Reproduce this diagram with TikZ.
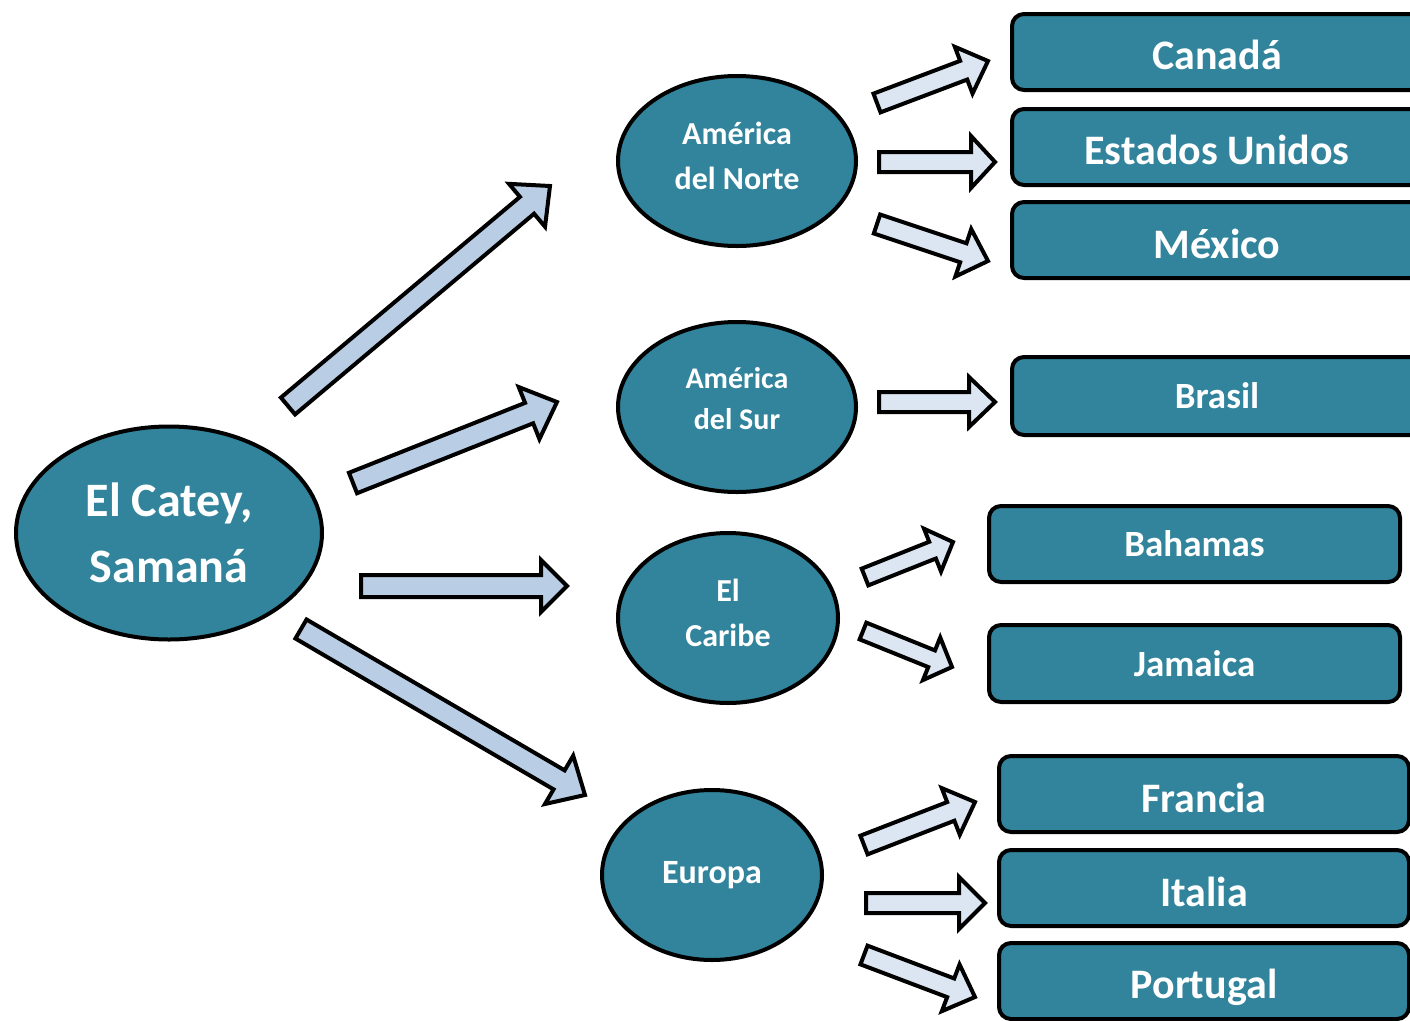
\documentclass[tikz,border=0pt]{standalone}
\usepackage{fontspec}
\setmainfont{Carlito}
\usetikzlibrary{shapes.geometric,calc}
\definecolor{tealfill}{HTML}{31849B}
\definecolor{bigar}{HTML}{B9CDE5}
\definecolor{smallar}{HTML}{DCE6F2}
\newcommand\blockarrow[6]{%
  \path let \p1=(#2), \p2=(#3), \n1={atan2(\y2-\y1,\x2-\x1)}, \n2={veclen(\x2-\x1,\y2-\y1)} in
    \pgfextra{\xdef\baAng{\n1}\xdef\baLen{\n2}\xdef\baX{\x1}\xdef\baY{\y1}};
  \pgfmathsetmacro\baA{\baLen-#6}%
  \pgfmathsetmacro\baW{#4/2}%
  \pgfmathsetmacro\baH{#5/2}%
  \begin{scope}[shift={(\baX,\baY)},rotate=\baAng,x=1pt,y=1pt]
    \draw[#1] (0,-\baW) -- (\baA,-\baW) -- (\baA,-\baH) -- (\baLen,0) -- (\baA,\baH) -- (\baA,\baW) -- (0,\baW) -- cycle;
  \end{scope}}
\newcommand\twolines[3]{\raisebox{#1}[\height][\depth]{\begin{tabular}{@{}c@{}}#2\\#3\end{tabular}}}
\newcommand\shifted[2]{\raisebox{#1}[\height][\depth]{#2}}
\tikzset{
  blob/.style={ellipse, draw=black, line width=4pt, fill=tealfill, text=white, inner sep=0pt, align=center},
  country/.style={rectangle, rounded corners=12pt, draw=black, line width=4pt, fill=tealfill, text=white, inner sep=0pt},
  bigarrow/.style={draw=black, line width=4pt, fill=bigar, line join=miter},
  smallarrow/.style={draw=black, line width=4pt, fill=smallar, line join=miter},
  fs/.style n args={2}{font=\fontsize{#1}{#2}\selectfont\bfseries},
}
\begin{document}
\begin{tikzpicture}[x=1pt,y=-1pt]
\useasboundingbox (0,0) rectangle (1410,1020);
\clip (0,0) rectangle (1410,1020);
% ellipses
\node[blob, fs={48}{66}, minimum width=306pt, minimum height=213pt] (catey) at (169,533) {El Catey,\\Samaná};
\node[blob, fs={32}{45}, minimum width=238pt, minimum height=170pt] (norte) at (737,161) {\twolines{3pt}{América}{del Norte}};
\node[blob, fs={30}{41}, minimum width=238pt, minimum height=170pt] (sur) at (737,407) {\twolines{6pt}{América}{del Sur}};
\node[blob, fs={32}{45}, minimum width=220pt, minimum height=170pt] (caribe) at (728,618) {\twolines{3pt}{El}{Caribe}};
\node[blob, fs={34}{40}, minimum width=220pt, minimum height=170pt] (europa) at (712,875) {Europa};
% boxes
\node[country, fs={42}{50}, minimum width=410pt, minimum height=76pt] (canada) at (1217,52) {\shifted{-3pt}{Canadá}};
\node[country, fs={42}{50}, minimum width=410pt, minimum height=76pt] (eeuu) at (1217,147) {\shifted{-3pt}{Estados Unidos}};
\node[country, fs={42}{50}, minimum width=410pt, minimum height=76pt] (mexico) at (1217,240) {\shifted{-4pt}{México}};
\node[country, fs={37}{44}, minimum width=410pt, minimum height=78pt] (brasil) at (1217,396) {Brasil};
\node[country, fs={37}{44}, minimum width=411pt, minimum height=76pt] (bahamas) at (1194.5,544) {Bahamas};
\node[country, fs={37}{44}, minimum width=411pt, minimum height=77pt] (jamaica) at (1194.5,663.5) {Jamaica};
\node[country, fs={42}{50}, minimum width=410pt, minimum height=76pt] (francia) at (1204,794) {\shifted{-4pt}{Francia}};
\node[country, fs={42}{50}, minimum width=410pt, minimum height=76pt] (italia) at (1204,888) {\shifted{-4pt}{Italia}};
\node[country, fs={42}{50}, minimum width=410pt, minimum height=76pt] (portugal) at (1204,981) {\shifted{-6pt}{Portugal}};
% arrow end points
\coordinate (b1s) at (288,406); \coordinate (b1e) at (550,186);
\coordinate (b2s) at (353,483); \coordinate (b2e) at (557,402);
\coordinate (b3s) at (361,586); \coordinate (b3e) at (567,586);
\coordinate (b4s) at (301,629); \coordinate (b4e) at (585,795);
\coordinate (s1s) at (877,103); \coordinate (s1e) at (988,61);
\coordinate (s2s) at (879,162); \coordinate (s2e) at (995,162);
\coordinate (s3s) at (877,224); \coordinate (s3e) at (988,261);
\coordinate (s4s) at (879,402); \coordinate (s4e) at (995,402);
\coordinate (s5s) at (865,577); \coordinate (s5e) at (953,542);
\coordinate (s6s) at (863,631); \coordinate (s6e) at (952,667);
\coordinate (s7s) at (864,845); \coordinate (s7e) at (975,802);
\coordinate (s8s) at (866,903); \coordinate (s8e) at (985,903);
\coordinate (s9s) at (864,955); \coordinate (s9e) at (975,997);
% big arrows
\blockarrow{bigarrow}{b1s}{b1e}{22}{56}{30}
\blockarrow{bigarrow}{b2s}{b2e}{22}{56}{30}
\blockarrow{bigarrow}{b3s}{b3e}{22}{52}{26}
\blockarrow{bigarrow}{b4s}{b4e}{22}{56}{30}
% small arrows
\blockarrow{smallarrow}{s1s}{s1e}{20}{50}{26}
\blockarrow{smallarrow}{s2s}{s2e}{20}{52}{24}
\blockarrow{smallarrow}{s3s}{s3e}{20}{50}{26}
\blockarrow{smallarrow}{s4s}{s4e}{20}{50}{26}
\blockarrow{smallarrow}{s5s}{s5e}{18}{46}{22}
\blockarrow{smallarrow}{s6s}{s6e}{18}{46}{22}
\blockarrow{smallarrow}{s7s}{s7e}{20}{50}{26}
\blockarrow{smallarrow}{s8s}{s8e}{20}{52}{26}
\blockarrow{smallarrow}{s9s}{s9e}{20}{50}{26}
\end{tikzpicture}
\end{document}
